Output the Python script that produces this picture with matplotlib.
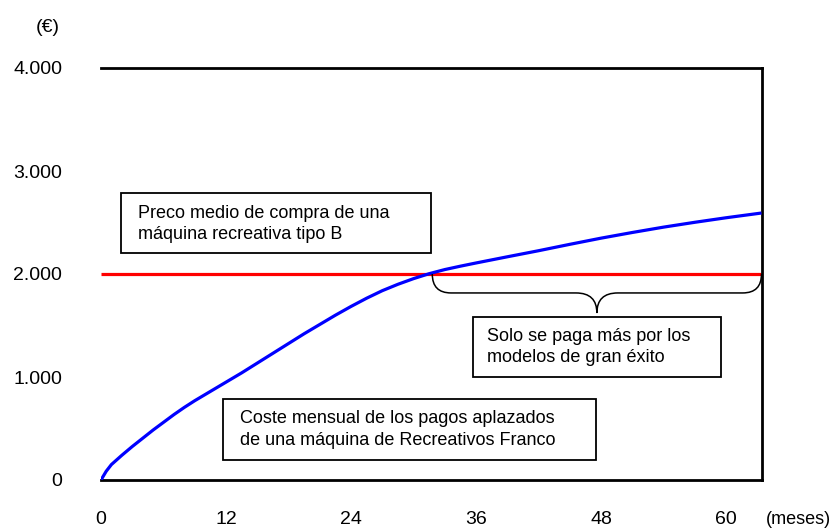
import matplotlib
matplotlib.use("Agg")
import matplotlib.pyplot as plt
from matplotlib.patches import Rectangle, PathPatch
from matplotlib.path import Path

plt.rcParams['font.family'] = ['Liberation Sans', 'DejaVu Sans']

# coste acumulado de los pagos aplazados (euros) por mes
meses = [0, 0.5, 1, 2, 3, 4, 5, 6, 7, 8, 9, 10, 11, 12, 13.5, 15, 16.5, 18, 19.5, 21, 22.5,
         24, 25.5, 27, 28.5, 30, 31.5, 33, 34.5, 36, 39, 42, 45, 48, 51, 54, 57, 60, 63.4]
coste = [0, 85, 150, 240, 325, 405, 485, 560, 635, 705, 770, 830, 890, 950, 1040, 1135,
         1230, 1325, 1420, 1510, 1600, 1685, 1765, 1838, 1900, 1955, 2003, 2043, 2076,
         2107, 2167, 2226, 2288, 2348, 2403, 2455, 2502, 2546, 2592]

precio_meses = [0, 63.4]
precio_medio = [2000, 2000]

x_ticks = [0, 12, 24, 36, 48, 60]
y_ticks = [0, 1000, 2000, 3000, 4000]
y_labels = ['0', '1.000', '2.000', '3.000', '4.000']

W, H = 834, 530
fig = plt.figure(figsize=(W / 100, H / 100), dpi=100)
ax = fig.add_axes([101 / W, 50 / H, 661 / W, 412 / H])

ax.plot(meses, coste, color='#0000ff', lw=2.3, solid_capstyle='butt',
        solid_joinstyle='round', zorder=3)
ax.plot(precio_meses, precio_medio, color='#ff0000', lw=2.3, solid_capstyle='butt', zorder=2)

ax.set_xlim(0, 63.45)
ax.set_ylim(0, 4000)
ax.set_xticks(x_ticks)
ax.set_xticklabels([str(t) for t in x_ticks])
ax.set_yticks(y_ticks)
ax.set_yticklabels(y_labels)
ax.tick_params(length=0, labelsize=14)
ax.tick_params(axis='y', pad=28)
ax.tick_params(axis='x', pad=22)

ax.spines['left'].set_visible(False)
for s in ['top', 'right', 'bottom']:
    ax.spines[s].set_linewidth(2)
    ax.spines[s].set_color('black')

# llave bajo la linea roja
x0, x1, xm = 31.8, 63.4, 47.6
yt, yb, ytip = 2000, 1816, 1621
verts = [(x0, yt), (x0, yb), (x0 + 1.8, yb),
         (xm - 2.0, yb),
         (xm, yb), (xm, ytip),
         (xm, yb), (xm + 2.0, yb),
         (x1 - 1.8, yb),
         (x1, yb), (x1, yt)]
codes = [Path.MOVETO, Path.CURVE3, Path.CURVE3,
         Path.LINETO,
         Path.CURVE3, Path.CURVE3,
         Path.CURVE3, Path.CURVE3,
         Path.LINETO,
         Path.CURVE3, Path.CURVE3]
ax.add_patch(PathPatch(Path(verts, codes), fill=False, lw=1.1, color='black', zorder=4))

# cuadros de texto
boxes = [
    (1.92, 2204, 29.75, 582, 3.55, 2485, 'Preco medio de compra de una\nmáquina recreativa tipo B'),
    (35.7, 1000, 23.8, 583, 37.1, 1290, 'Solo se paga más por los\nmodelos de gran éxito'),
    (11.7, 194, 35.8, 592, 13.3, 490, 'Coste mensual de los pagos aplazados\nde una máquina de Recreativos Franco'),
]
for bx, by, bw, bh, tx, ty, txt in boxes:
    ax.add_patch(Rectangle((bx, by), bw, bh, fill=True, facecolor='white',
                           edgecolor='black', lw=1.3, zorder=5))
    ax.text(tx, ty, txt, fontsize=13, ha='left', va='center', linespacing=1.35, zorder=6)

fig.text(48 / W, 1 - 27 / H, '(€)', fontsize=14, ha='center', va='center')
fig.text(831 / W, 1 - 520 / H, '(meses)', fontsize=13, ha='right', va='center')

fig.savefig('out.png', dpi=100)
